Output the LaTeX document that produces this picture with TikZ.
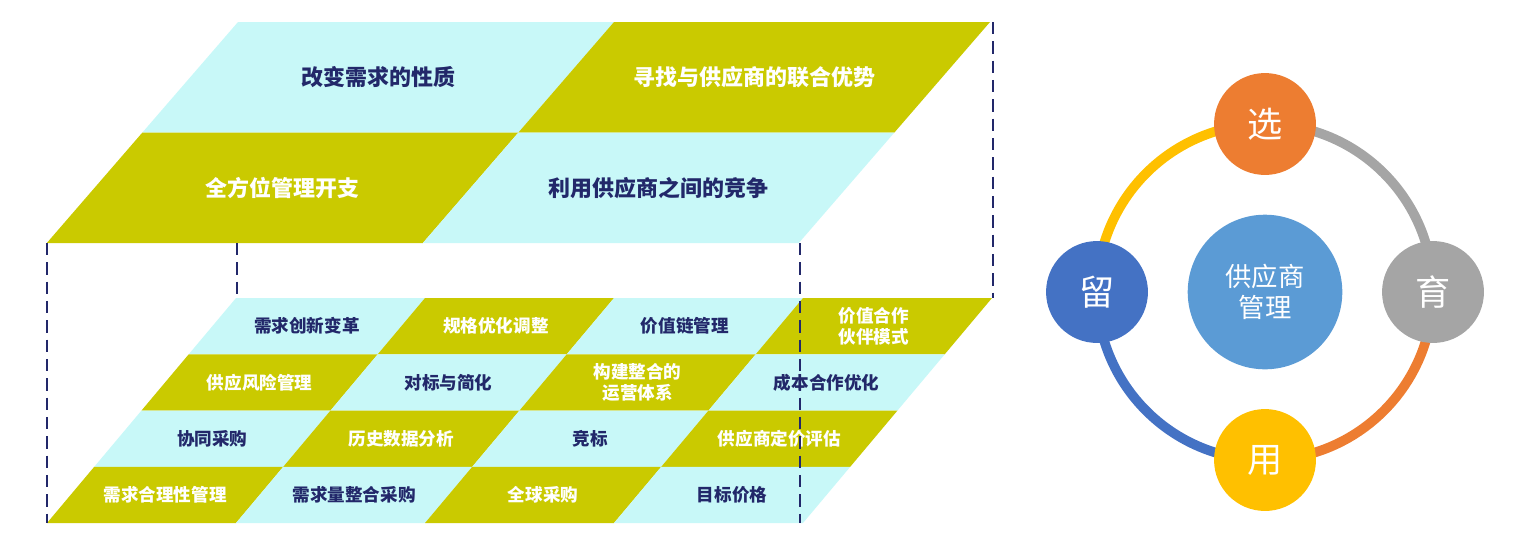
\documentclass[tikz,border=0pt]{standalone}
\usepackage{fontspec}
\setmainfont{Noto Sans CJK SC}
\usetikzlibrary{positioning}
\definecolor{lcyan}{HTML}{C8F8F8}
\definecolor{olive}{HTML}{CACA00}
\definecolor{navy}{HTML}{22286A}
\definecolor{corange}{HTML}{ED7D31}
\definecolor{cgray}{HTML}{A5A5A5}
\definecolor{cyellow}{HTML}{FFC000}
\definecolor{cblue}{HTML}{4472C4}
\definecolor{cmid}{HTML}{5B9BD5}
\tikzset{
  cyancell/.style={fill=lcyan},
  olivecell/.style={fill=olive},
  ontext/.style={font=\bfseries\fontsize{10}{12}\selectfont, align=center},
  bigtext/.style={font=\bfseries\fontsize{12.5}{14}\selectfont},
  guide/.style={navy, line width=1.6pt, dash pattern=on 7pt off 4pt},
  ring/.style={line width=5.5pt},
  ball/.style={circle, minimum size=58pt, inner sep=0pt, text=white, font=\fontsize{20}{22}\selectfont}
}
% grid cell of the lower block: col, row, style, text colour, text
\newcommand\gridcell[5]{
  \fill[#3] ({236-47.25*#2+189*#1},{298+56.25*#2}) -- ++(189,0) -- ++(-47.25,56.25) -- ++(-189,0) -- cycle;
  \node[ontext, text=#4] (g#1#2) at ({236-47.25*(#2+0.5)+189*(#1+0.5)},{298+56.25*(#2+0.5)}) {#5};
}
% cell of the upper block
\newcommand\topcell[5]{
  \fill[#3] ({238-95.6*#2+376*#1},{22+110.5*#2}) -- ++(376,0) -- ++(-95.6,110.5) -- ++(-376,0) -- cycle;
  \node[bigtext, text=#4] (t#1#2) at ({238-95.6*(#2+0.5)+376*(#1+0.5)},{22+110.5*(#2+0.5)}) {#5};
}
\begin{document}
\begin{tikzpicture}[x=0.02cm, y=-0.02cm]
\useasboundingbox (0,0) rectangle (1514,552);
% upper block
\topcell{0}{0}{cyancell}{navy}{改变需求的性质}
\topcell{1}{0}{olivecell}{white}{寻找与供应商的联合优势}
\topcell{0}{1}{olivecell}{white}{全方位管理开支}
\topcell{1}{1}{cyancell}{navy}{利用供应商之间的竞争}
% lower block
\gridcell{0}{0}{cyancell}{navy}{需求创新变革}
\gridcell{1}{0}{olivecell}{white}{规格优化调整}
\gridcell{2}{0}{cyancell}{navy}{价值链管理}
\gridcell{3}{0}{olivecell}{white}{价值合作\\伙伴模式}
\gridcell{0}{1}{olivecell}{white}{供应风险管理}
\gridcell{1}{1}{cyancell}{navy}{对标与简化}
\gridcell{2}{1}{olivecell}{white}{构建整合的\\运营体系}
\gridcell{3}{1}{cyancell}{navy}{成本合作优化}
\gridcell{0}{2}{cyancell}{navy}{协同采购}
\gridcell{1}{2}{olivecell}{white}{历史数据分析}
\gridcell{2}{2}{cyancell}{navy}{竞标}
\gridcell{3}{2}{olivecell}{white}{供应商定价评估}
\gridcell{0}{3}{olivecell}{white}{需求合理性管理}
\gridcell{1}{3}{cyancell}{navy}{需求量整合采购}
\gridcell{2}{3}{olivecell}{white}{全球采购}
\gridcell{3}{3}{cyancell}{navy}{目标价格}
% dashed guides
\coordinate (a1) at (47,243); \coordinate (a2) at (47,523);
\coordinate (b1) at (237,243); \coordinate (b2) at (237,298);
\coordinate (c1) at (800,243); \coordinate (c2) at (800,523);
\coordinate (d1) at (993,22); \coordinate (d2) at (993,298);
\draw[guide] (a1) -- (a2);
\draw[guide] (b1) -- (b2);
\draw[guide] (c1) -- (c2);
\draw[guide] (d1) -- (d2);
% cycle
\coordinate (hub) at (1265,292);
\draw[ring, corange] (hub) ++(90:168) arc[start angle=90, end angle=0, radius=168];
\draw[ring, cgray] (hub) ++(0:168) arc[start angle=0, end angle=-90, radius=168];
\draw[ring, cyellow] (hub) ++(-90:168) arc[start angle=-90, end angle=-180, radius=168];
\draw[ring, cblue] (hub) ++(180:168) arc[start angle=180, end angle=90, radius=168];
\node[ball, fill=cmid, minimum size=88pt, font=\fontsize{15}{18}\selectfont, align=center] (mid) at (hub) {供应商\\管理};
\node[ball, fill=corange] (xuan) at (1265,124) {选};
\node[ball, fill=cgray] (yu) at (1433,292) {育};
\node[ball, fill=cyellow] (yong) at (1265,460) {用};
\node[ball, fill=cblue] (liu) at (1097,292) {留};
\end{tikzpicture}
\end{document}
